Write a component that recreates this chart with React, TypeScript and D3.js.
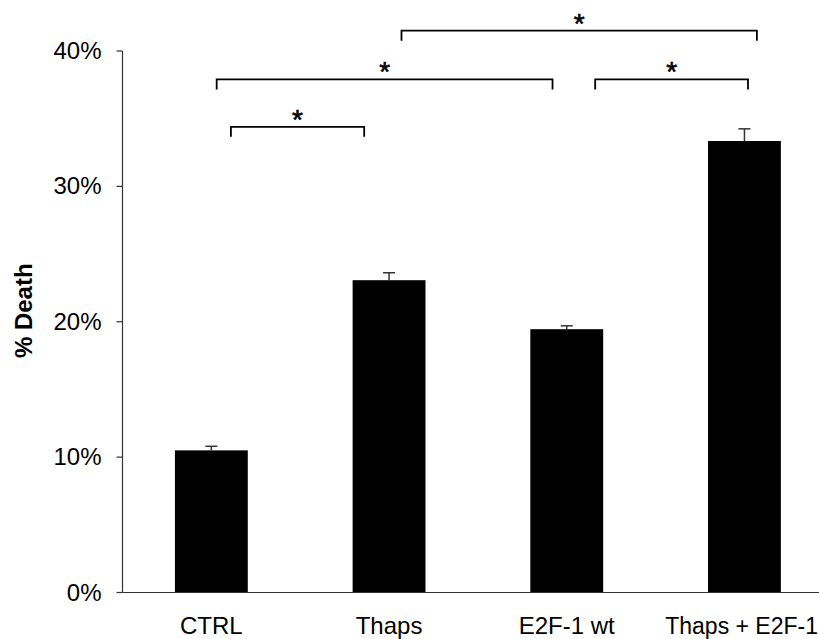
import React from "react";
import * as d3 from "d3";

const categories = ["CTRL", "Thaps", "E2F-1 wt", "Thaps + E2F-1"];
const values = [10.5, 23.07, 19.45, 33.35];
const errors = [0.3, 0.55, 0.25, 0.9];
const yTicks = [0, 10, 20, 30, 40];
// significance brackets: [from index, to index, level in %]
const brackets = [
  { from: 1.0, to: 3.0, level: 41.5, label: "*" },
  { from: 0.0, to: 2.0, level: 37.9, label: "*" },
  { from: 2.0, to: 3.0, level: 37.9, label: "*" },
  { from: 0.0, to: 1.0, level: 34.4, label: "*" },
];
const bracketInset = [
  { l: 0.07, r: -0.07 },
  { l: 0.03, r: 0.08 },
  { l: 0.16, r: -0.02 },
  { l: 0.11, r: 0.14 },
];

export default function App() {
  const W = 819, H = 639;
  const x0 = 122.5;
  const x = d3.scaleBand<string>().domain(categories).range([x0, x0 + 4 * 177.7]).paddingInner(0.59).paddingOuter(0.295);
  const y = d3.scaleLinear().domain([0, 40]).range([592.5, 51]);
  const font = "Arial, 'Liberation Sans', sans-serif";
  const bw = x.bandwidth();
  const step = x.step();
  const cx = (i: number) => (x(categories[Math.floor(i)]) as number) + bw / 2 + (i - Math.floor(i)) * step;
  return (
    <svg width={W} height={H} style={{ position: "absolute", left: 0, top: 0 }}>
      <rect width={W} height={H} fill="#fff" />
      {categories.map((c, i) => {
        const last = i === categories.length - 1;
        return (
          <g key={c}>
            <rect x={x(c)} y={y(values[i])} width={bw} height={y(0) - y(values[i])} fill="#000" />
            <line x1={cx(i)} x2={cx(i)} y1={y(values[i])} y2={y(values[i] + errors[i])} stroke="#333" strokeWidth={1.5} />
            <line x1={cx(i) - 6} x2={cx(i) + 6} y1={y(values[i] + errors[i])} y2={y(values[i] + errors[i])} stroke="#333" strokeWidth={1.5} />
            <text x={last ? W - 1 : cx(i)} y={y(0) + 41.5} textAnchor={last ? "end" : "middle"} fontFamily={font} fontSize={last ? 23 : 24} fill="#000">{c}</text>
          </g>
        );
      })}
      <line x1={x0} x2={x0} y1={y(40)} y2={y(0)} stroke="#333" strokeWidth={1.2} />
      <line x1={x0} x2={W} y1={y(0)} y2={y(0)} stroke="#333" strokeWidth={1.2} />
      {yTicks.map((t) => (
        <g key={t}>
          <line x1={x0 - 6} x2={x0} y1={y(t)} y2={y(t)} stroke="#333" strokeWidth={1.2} />
          <text x={x0 - 21} y={y(t) + 8} textAnchor="end" fontFamily={font} fontSize={24} fill="#000">{t}%</text>
        </g>
      ))}
      <text transform={`translate(32,${(y(0) + y(40)) / 2 - 11}) rotate(-90)`} textAnchor="middle" fontFamily={font} fontSize={24} fontWeight="bold" fill="#000">% Death</text>
      {brackets.map((b, k) => {
        const xa = cx(b.from) + bracketInset[k].l * step;
        const xb = cx(b.to) - bracketInset[k].r * step;
        const yl = y(b.level);
        return (
          <g key={k}>
            <path d={`M${xa},${yl + 10}V${yl}H${xb}V${yl + 10}`} fill="none" stroke="#000" strokeWidth={1.8} />
            <text x={(xa + xb) / 2} y={yl + 2} textAnchor="middle" fontFamily={font} fontSize={28} stroke="#000" strokeWidth={0.6} fill="#000">{b.label}</text>
          </g>
        );
      })}
    </svg>
  );
}
